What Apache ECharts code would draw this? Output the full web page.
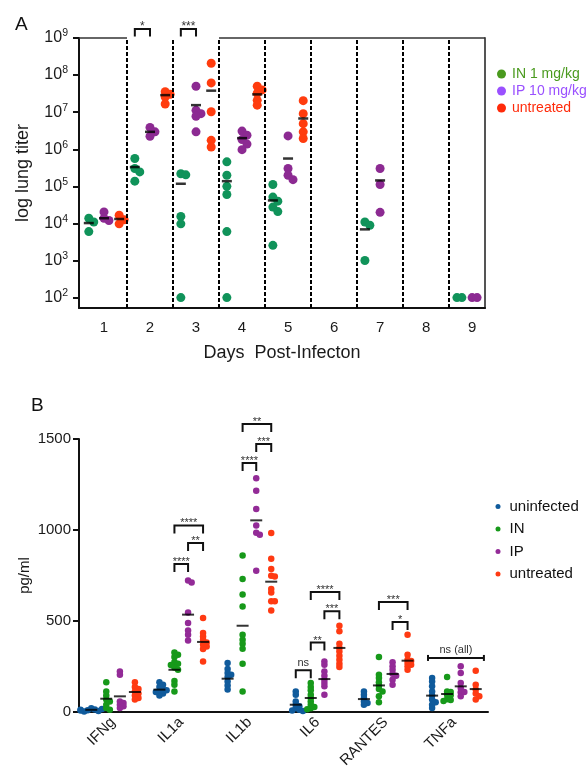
<!DOCTYPE html>
<html>
<head>
<meta charset="utf-8">
<script src="https://cdn.jsdelivr.net/npm/echarts@6/dist/echarts.min.js"></script>
<style>
  html, body { margin: 0; padding: 0; background: #fff; }
  #main { width: 588px; height: 774px; }
</style>
</head>
<body>
<div id="main"></div>
<script>
// ---- panel A : log10 lung titer by day ----
const dayTicks = [1, 2, 3, 4, 5, 6, 7, 8, 9];
const decades = [2, 3, 4, 5, 6, 7, 8, 9];
const daysA = [1, 2, 3, 4, 5, 7, 9];
const titerIN = [
  [4.14, 4.04, 3.78],
  [5.75, 5.48, 5.39, 5.14],
  [5.34, 5.31, 4.19, 3.99, 2.0],
  [5.66, 5.30, 5.0, 4.78, 3.78, 2.0],
  [5.05, 4.71, 4.60, 4.44, 4.32, 3.41],
  [4.04, 3.95, 3.0],
  [2.0, 2.0]
];
const titerIP = [
  [4.31, 4.14, 4.08],
  [6.59, 6.47, 6.35],
  [7.70, 7.05, 6.96, 6.89, 6.47],
  [6.49, 6.38, 6.26, 6.14, 5.99],
  [6.36, 5.48, 5.30, 5.18],
  [5.48, 5.05, 4.30],
  [2.0, 2.0]
];
const titerUT = [
  [4.22, 4.10, 3.99],
  [7.55, 7.48, 7.41, 7.22],
  [8.32, 7.79, 7.01, 6.24, 6.06],
  [7.70, 7.60, 7.51, 7.32, 7.19],
  [7.31, 6.96, 6.69, 6.47, 6.29],
  [],
  []
];
const meanTiterIN = [4.01, 5.52, 5.07, 5.14, 4.62, 3.84, null];
const meanTiterIP = [4.14, 6.47, 7.19, 6.30, 5.75, 5.16, null];
const meanTiterUT = [4.12, 7.46, 7.58, 7.48, 6.83, null, null];
// [day, from group, to group, level]
const bracketsA = [[2, 0, 1, 9.24], [3, 0, 1, 9.24]];
const bracketLabelsA = ['*', '***'];

// ---- panel B : cytokines ----
const cytokines = ['IFNg', 'IL1a', 'IL1b', 'IL6', 'RANTES', 'TNFa'];
const cytUninf = [
  [20, 14, 10, 6, 3, 16, 8, 12],
  [163, 150, 137, 123, 113, 101, 90, 110, 120],
  [269, 236, 214, 192, 168, 145, 123, 205],
  [113, 95, 58, 40, 31, 22, 13, 8, 5],
  [113, 95, 77, 58, 49, 40],
  [187, 168, 141, 113, 90, 68, 53, 40, 22]
];
const cytIN = [
  [163, 113, 90, 68, 58, 40, 22, 13],
  [327, 315, 302, 275, 265, 258, 245, 232, 170, 150, 113],
  [860, 731, 645, 580, 425, 397, 375, 348, 265, 113],
  [159, 137, 119, 95, 77, 58, 40, 27, 20, 15],
  [302, 205, 187, 163, 145, 126, 113, 86, 53],
  [192, 113, 110, 95, 92, 70, 66, 60]
];
const cytIP = [
  [223, 205, 58, 49, 40, 31, 22],
  [723, 712, 547, 489, 448, 425, 393],
  [1284, 1216, 1115, 1025, 985, 974, 776],
  [278, 260, 223, 199, 177, 159, 141, 95],
  [273, 251, 232, 210, 199, 177, 150],
  [251, 214, 159, 132, 108, 86, 110]
];
const cytUT = [
  [163, 137, 126, 113, 101, 90, 77, 68],
  [516, 434, 415, 397, 382, 370, 360, 346, 278],
  [983, 842, 786, 749, 744, 676, 657, 608, 608, 558],
  [474, 443, 375, 352, 333, 309, 287, 265, 247],
  [425, 315, 287, 269, 251, 232, 280, 260],
  [227, 150, 123, 101, 86, 68]
];
const meanUninf = [12, 123, 183, 40, 71, 90];
const meanIN = [73, 232, 474, 77, 146, 99];
const meanIP = [86, 535, 1053, 181, 209, 141];
const meanUT = [110, 385, 716, 352, 282, 126];
// [cytokine, from group, to group, level]
const bracketsB = [
  [1, 1, 2, 813], [1, 2, 3, 929], [1, 1, 3, 1025],
  [2, 1, 2, 1368], [2, 2, 3, 1473], [2, 1, 3, 1582],
  [3, 0, 1, 229], [3, 1, 2, 382], [3, 2, 3, 553], [3, 1, 3, 659],
  [4, 2, 3, 495], [4, 1, 3, 604]
];
const bracketLabelsB = ['****', '**', '****', '****', '***', '**', 'ns', '**', '***', '****', '*', '***'];
const nsAll = [[5, 297]];
const nsAllLabel = ['ns (all)'];

const FONT = 'Liberation Sans, Arial, sans-serif';
const offA = [-0.33, 0, 0.33];
const offB = [-0.32, -0.1, 0.1, 0.32];
const nsAllSpan = [-0.38, 0.44];

// simple beeswarm so overlapping dots spread sideways
function swarm(vals, center, pxX, pxY, diam) {
  const placed = [];
  const out = [];
  const steps = [0, 1, -1, 2, -2, 3, -3];
  vals.forEach(function (v) {
    for (let k = 0; k < steps.length; k++) {
      const dx = steps[k] * diam * 0.55;
      const ok = placed.every(function (p) {
        return Math.hypot(p[0] - dx, (p[1] - v) * pxY) >= diam * 0.5;
      });
      if (ok || k === steps.length - 1) {
        placed.push([dx, v]);
        out.push([center + dx / pxX, v]);
        break;
      }
    }
  });
  return out;
}

function pointsA(groups, g) {
  let pts = [];
  groups.forEach(function (vals, i) {
    pts = pts.concat(swarm(vals, daysA[i] + offA[g], 46, 37, 9));
  });
  return pts;
}
function meansA(means, g) {
  return means.map(function (m, i) { return m == null ? null : [daysA[i] + offA[g], m]; })
    .filter(function (d) { return d; });
}
function pointsB(groups, g) {
  let pts = [];
  groups.forEach(function (vals, i) {
    pts = pts.concat(swarm(vals, i + offB[g], 68.2, 0.182, 6.5));
  });
  return pts;
}
function meansB(means, g) {
  return means.map(function (m, i) { return [i + offB[g], m]; });
}

function makeBracket(labels, foot, fontSize, caps) {
  return function (params, api) {
    const a = api.coord([api.value(0), api.value(2)]);
    const b = api.coord([api.value(1), api.value(2)]);
    const txt = labels[params.dataIndex];
    const stroke = { stroke: '#111', lineWidth: 2, fill: null };
    const kids = [];
    if (caps) {
      kids.push({ type: 'line', shape: { x1: a[0], y1: a[1], x2: b[0], y2: b[1] }, style: stroke });
      kids.push({ type: 'line', shape: { x1: a[0], y1: a[1] - 3, x2: a[0], y2: a[1] + 3 }, style: stroke });
      kids.push({ type: 'line', shape: { x1: b[0], y1: b[1] - 3, x2: b[0], y2: b[1] + 3 }, style: stroke });
    } else {
      kids.push({ type: 'polyline', shape: { points: [[a[0], a[1] + foot], [a[0], a[1]], [b[0], b[1]], [b[0], b[1] + foot]] }, style: stroke });
    }
    let dy = 2;
    if (txt === 'ns') dy = 7;
    if (txt === 'ns (all)') dy = 8;
    kids.push({
      type: 'text',
      style: { text: txt, x: (a[0] + b[0]) / 2, y: a[1] - dy, align: 'center', verticalAlign: 'middle', fontSize: fontSize, fontFamily: FONT, fill: '#333' }
    });
    return { type: 'group', children: kids };
  };
}

const colA = ['#10935a', '#8c2a92', '#ff3c0e'];
const colB = ['#105b9c', '#17991a', '#932b97', '#ff3a12'];
const namesA = ['IN 1 mg/kg', 'IP 10 mg/kg', 'untreated'];
const legendColA = ['#4a9a1e', '#9a50ff', '#ff2a0a'];
const namesB = ['uninfected', 'IN', 'IP', 'untreated'];

const xMinA = 0.457, xMaxA = 9.28;
const separators = dayTicks.slice(0, -1).map(function (d) { return d + 0.5; });

const series = [];
[titerIN, titerIP, titerUT].forEach(function (groups, g) {
  series.push({
    name: namesA[g], type: 'scatter', xAxisIndex: 0, yAxisIndex: 0,
    data: pointsA(groups, g), symbolSize: 9, z: 3,
    itemStyle: { color: colA[g], opacity: 1 }
  });
});
[meanTiterIN, meanTiterIP, meanTiterUT].forEach(function (means, g) {
  series.push({
    name: 'meanA' + g, type: 'scatter', xAxisIndex: 0, yAxisIndex: 0,
    data: meansA(means, g), symbol: 'rect', symbolSize: [10, 2.5], z: 4,
    itemStyle: { color: '#000' }
  });
});
// dashed day separators and the broken top border
series.push({
  name: 'frameA', type: 'scatter', xAxisIndex: 0, yAxisIndex: 0, data: [],
  markLine: {
    silent: true, symbol: 'none', label: { show: false }, animation: false,
    lineStyle: { type: [4, 2], color: '#000', width: 2 },
    data: separators.map(function (x) { return { xAxis: x }; }).concat([
      [{ coord: [xMinA, 9], lineStyle: { type: 'solid', color: '#333', width: 1.5 } }, { coord: [1.5, 9] }],
      [{ coord: [3.5, 9], lineStyle: { type: 'solid', color: '#333', width: 1.5 } }, { coord: [xMaxA, 9] }]
    ])
  }
});
series.push({
  name: 'bracketsA', type: 'custom', xAxisIndex: 0, yAxisIndex: 0, clip: false, z: 5,
  renderItem: makeBracket(bracketLabelsA, 7.5, 12, false),
  data: bracketsA.map(function (b) { return [b[0] + offA[b[1]], b[0] + offA[b[2]], b[3]]; })
});

[cytUninf, cytIN, cytIP, cytUT].forEach(function (groups, g) {
  series.push({
    name: namesB[g], type: 'scatter', xAxisIndex: 2, yAxisIndex: 2,
    data: pointsB(groups, g), symbolSize: 6.5, z: 3,
    itemStyle: { color: colB[g], opacity: 1 }
  });
});
[meanUninf, meanIN, meanIP, meanUT].forEach(function (means, g) {
  series.push({
    name: 'meanB' + g, type: 'scatter', xAxisIndex: 2, yAxisIndex: 2,
    data: meansB(means, g), symbol: 'rect', symbolSize: [12, 2], z: 4,
    itemStyle: { color: '#000' }
  });
});
series.push({
  name: 'bracketsB', type: 'custom', xAxisIndex: 2, yAxisIndex: 2, clip: false, z: 5,
  renderItem: makeBracket(bracketLabelsB, 8, 11, false),
  data: bracketsB.map(function (b) { return [b[0] + offB[b[1]], b[0] + offB[b[2]], b[3]]; })
});
series.push({
  name: 'nsAll', type: 'custom', xAxisIndex: 2, yAxisIndex: 2, clip: false, z: 5,
  renderItem: makeBracket(nsAllLabel, 0, 11, true),
  data: nsAll.map(function (b) { return [b[0] + nsAllSpan[0], b[0] + nsAllSpan[1], b[1]]; })
});

const axisLine = { show: true, onZero: false, lineStyle: { color: '#111', width: 2 } };
const labelColor = '#1a1a1a';

const chart = echarts.init(document.getElementById('main'));
chart.setOption({
  animation: false,
  textStyle: { fontFamily: FONT },
  title: [
    { text: 'A', left: 10, top: 10, textStyle: { fontSize: 19, fontWeight: 'normal', color: '#111', fontFamily: FONT } },
    { text: 'B', left: 26, top: 391, textStyle: { fontSize: 19, fontWeight: 'normal', color: '#111', fontFamily: FONT } }
  ],
  legend: [
    {
      orient: 'vertical', left: 492, top: 62, itemWidth: 11, itemHeight: 9, itemGap: 3, icon: 'circle',
      selectedMode: false,
      textStyle: { fontSize: 14, lineHeight: 14, fontFamily: FONT },
      data: namesA.map(function (n, i) {
        return { name: n, itemStyle: { color: legendColA[i] }, textStyle: { color: legendColA[i] } };
      })
    },
    {
      orient: 'vertical', left: 490.5, top: 494, itemWidth: 13, itemHeight: 5, itemGap: 7.5, icon: 'circle',
      selectedMode: false,
      textStyle: { fontSize: 15, lineHeight: 15, color: '#111', fontFamily: FONT },
      data: namesB.map(function (n, i) {
        return { name: n, itemStyle: { color: colB[i] } };
      })
    }
  ],
  grid: [
    { left: 79, top: 38, width: 406, height: 270 },
    { left: 79, top: 439, width: 409, height: 273 }
  ],
  xAxis: [
    {
      gridIndex: 0, type: 'value', min: xMinA, max: xMaxA,
      axisLine: axisLine, axisTick: { show: false }, splitLine: { show: false },
      axisLabel: { customValues: dayTicks, fontSize: 15, color: labelColor, margin: 12 },
      name: 'Days  Post-Infecton', nameLocation: 'middle', nameGap: 36,
      nameTextStyle: { fontSize: 18, color: labelColor }
    },
    {
      gridIndex: 1, type: 'category', data: cytokines,
      axisLine: axisLine,
      axisTick: { alignWithLabel: true, length: 6, lineStyle: { width: 2, color: '#111' } },
      axisLabel: { rotate: 45, fontSize: 15, color: labelColor, margin: 8 }
    },
    { gridIndex: 1, type: 'value', min: -0.5, max: 5.5, show: false }
  ],
  yAxis: [
    {
      gridIndex: 0, type: 'value', min: 1.72, max: 9,
      axisLine: axisLine, splitLine: { show: false },
      axisTick: { show: true, customValues: decades, length: 6, lineStyle: { width: 2, color: '#111' } },
      axisLabel: {
        customValues: decades, margin: 11, color: labelColor,
        formatter: function (v) { return '{b|10}{s|' + v + '}'; },
        rich: {
          b: { fontSize: 16, color: labelColor, lineHeight: 20 },
          s: { fontSize: 10.5, color: labelColor, verticalAlign: 'top', lineHeight: 12 }
        }
      },
      name: 'log lung titer', nameLocation: 'middle', nameGap: 47, nameMoveOverlap: false,
      nameTextStyle: { fontSize: 18, color: labelColor }
    },
    {
      gridIndex: 0, type: 'value', min: 1.72, max: 9, position: 'right',
      axisLine: { show: true, onZero: false, lineStyle: { color: '#555', width: 2 } },
      axisTick: { show: false }, axisLabel: { show: false }, splitLine: { show: false }
    },
    {
      gridIndex: 1, type: 'value', min: 0, max: 1500, interval: 500,
      axisLine: axisLine, splitLine: { show: false },
      axisTick: { show: true, length: 6, lineStyle: { width: 2, color: '#111' } },
      axisLabel: { fontSize: 15, color: labelColor, margin: 8, formatter: function (v) { return String(v); } },
      name: 'pg/ml', nameLocation: 'middle', nameGap: 47, nameMoveOverlap: false,
      nameTextStyle: { fontSize: 15, color: labelColor }
    }
  ],
  series: series
});
</script>
</body>
</html>
